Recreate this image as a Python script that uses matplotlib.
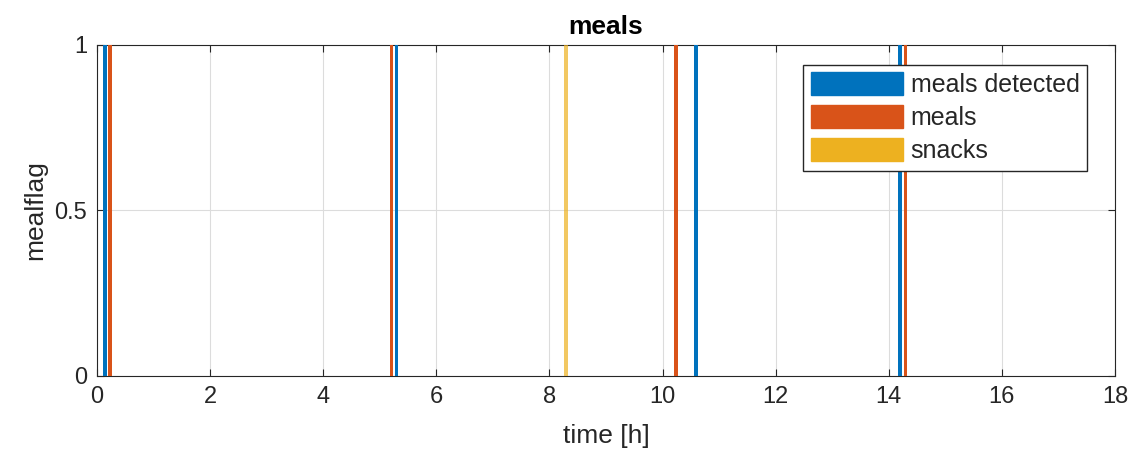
import matplotlib.pyplot as plt
from matplotlib.patches import Patch

# meal event times in hours
detected_times = [0.14, 5.30, 10.59, 14.20]
meal_times = [0.23, 5.21, 10.24, 14.29]
snack_times = [8.29]

x_ticks = [0, 2, 4, 6, 8, 10, 12, 14, 16, 18]
y_ticks = [0, 0.5, 1]
y_tick_labels = ["0", "0.5", "1"]

C_BLUE = (0.0, 0.447, 0.741)
C_ORANGE = (0.85, 0.325, 0.098)
C_YELLOW = (0.929, 0.694, 0.125)
C_TEXT = "#262626"

plt.rcParams["font.family"] = ["Liberation Sans", "DejaVu Sans"]

fig = plt.figure(figsize=(11.32, 4.63), dpi=100)
ax = fig.add_axes([0.0857, 0.188, 0.8993, 0.715])

w = 0.06
ax.bar(detected_times, [1] * len(detected_times), width=w, color=C_BLUE, zorder=3)
ax.bar(meal_times, [1] * len(meal_times), width=w, color=C_ORANGE, zorder=3)
ax.bar(snack_times, [1] * len(snack_times), width=w, color=C_YELLOW, alpha=0.7, zorder=3)

ax.set_xlim(0, 18)
ax.set_ylim(0, 1)
ax.set_xticks(x_ticks)
ax.set_yticks(y_ticks)
ax.set_yticklabels(y_tick_labels)
ax.grid(True, color="#dcdcdc", linewidth=0.8, zorder=0)
ax.tick_params(direction="in", length=5, labelsize=17, colors=C_TEXT, pad=7,
               top=True, right=True, labeltop=False, labelright=False)
for s in ax.spines.values():
    s.set_color(C_TEXT)
    s.set_linewidth(0.8)

ax.set_xlabel("time [h]", fontsize=19, color=C_TEXT, labelpad=12)
ax.set_ylabel("mealflag", fontsize=19, color=C_TEXT, labelpad=5)
ax.set_title("meals", fontsize=19, fontweight="bold", pad=8)

handles = [Patch(facecolor=C_BLUE, edgecolor=C_BLUE, label="meals detected"),
           Patch(facecolor=C_ORANGE, edgecolor=C_ORANGE, label="meals"),
           Patch(facecolor=C_YELLOW, edgecolor=C_YELLOW, label="snacks")]
leg = ax.legend(handles=handles, loc="upper right", bbox_to_anchor=(0.9725, 0.94),
                borderaxespad=0, fontsize=18, handlelength=3.7, handleheight=1.0,
                handletextpad=0.3, labelspacing=0.33, borderpad=0.3,
                fancybox=False, framealpha=1)
leg.get_frame().set_edgecolor(C_TEXT)
leg.get_frame().set_linewidth(1.0)
for t in leg.get_texts():
    t.set_color(C_TEXT)

fig.savefig("out.png", dpi=100)
